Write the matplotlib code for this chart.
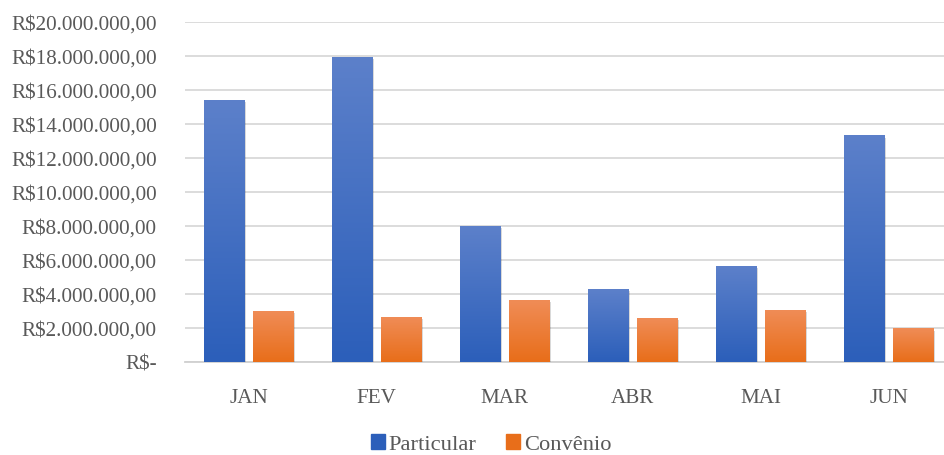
import numpy as np
import matplotlib.pyplot as plt
from matplotlib.patches import Patch
from matplotlib.ticker import FuncFormatter
import matplotlib.patheffects as pe

plt.rcParams['font.family'] = ['Liberation Serif', 'DejaVu Serif']

months = ['JAN', 'FEV', 'MAR', 'ABR', 'MAI', 'JUN']
particular = [15.4e6, 17.9e6, 8.0e6, 4.25e6, 5.6e6, 13.3e6]
convenio = [3.0e6, 2.6e6, 3.6e6, 2.55e6, 3.05e6, 1.95e6]
y_ticks = np.arange(0, 20.1e6, 2e6)

BLUE_TOP, BLUE_BOT = '#5C80CA', '#2C5FBA'
ORANGE_TOP, ORANGE_BOT = '#F08C56', '#E86E1A'
TEXT = '#595959'
FS = 15.2


def brl(v, pos=None):
    if v == 0:
        return 'R$-'
    s = f"{v:,.2f}"
    s = s.replace(',', 'X').replace('.', ',').replace('X', '.')
    return 'R$' + s


def hex_rgb(h):
    h = h.lstrip('#')
    return np.array([int(h[i:i + 2], 16) / 255 for i in (0, 2, 4)])


def gradient_fill(ax, bars, top, bottom):
    t, b = hex_rgb(top), hex_rgb(bottom)
    grad = np.linspace(0, 1, 64)[:, None, None]
    img = t * (1 - grad) + b * grad
    for bar in bars:
        x, w, h = bar.get_x(), bar.get_width(), bar.get_height()
        ax.imshow(img, extent=(x, x + w, 0, h), aspect='auto',
                  interpolation='bicubic', zorder=3, origin='upper')


fig = plt.figure(figsize=(9.44, 4.56), dpi=100)
L, R = 184.5 / 944, 953 / 944
B, T = (456 - 363) / 456, (456 - 23) / 456
ax = fig.add_axes([L, B, R - L, T - B])

x = np.arange(len(months))
w = 0.3125
off = 0.191
shadow = [pe.SimplePatchShadow(offset=(1.2, -1.2), shadow_rgbFace='k', alpha=0.15), pe.Normal()]
b1 = ax.bar(x - off, particular, w, color=BLUE_BOT, zorder=3, path_effects=shadow)
b2 = ax.bar(x + off, convenio, w, color=ORANGE_BOT, zorder=3, path_effects=shadow)
gradient_fill(ax, b1, BLUE_TOP, BLUE_BOT)
gradient_fill(ax, b2, ORANGE_TOP, ORANGE_BOT)

ax.set_xlim(-0.5, len(months) - 0.5)
ax.set_ylim(0, 20e6)
ax.set_yticks(y_ticks)
ax.yaxis.set_major_formatter(FuncFormatter(brl))
ax.set_xticks(x)
ax.set_xticklabels(months)
ax.grid(axis='y', color='#D9D9D9', linewidth=1.3, zorder=0)
ax.set_axisbelow(True)
for s in ['top', 'right', 'left']:
    ax.spines[s].set_visible(False)
ax.spines['bottom'].set_color('#D0D0D0')
ax.spines['bottom'].set_linewidth(1.3)
ax.tick_params(axis='both', length=0, labelsize=FS, colors=TEXT)
ax.tick_params(axis='y', pad=20)
ax.tick_params(axis='x', pad=18.5)

handles = [Patch(color=BLUE_BOT, label='Particular'), Patch(color=ORANGE_BOT, label='Convênio')]
fig.legend(handles=handles, loc='center', bbox_to_anchor=(491 / 944, 1 - 445 / 456),
           ncol=2, frameon=False, fontsize=16.2, labelcolor=TEXT,
           handlelength=0.65, handleheight=0.65, handletextpad=0.15, columnspacing=1.3,
           borderpad=0.1)

fig.savefig('out.png', dpi=100)
